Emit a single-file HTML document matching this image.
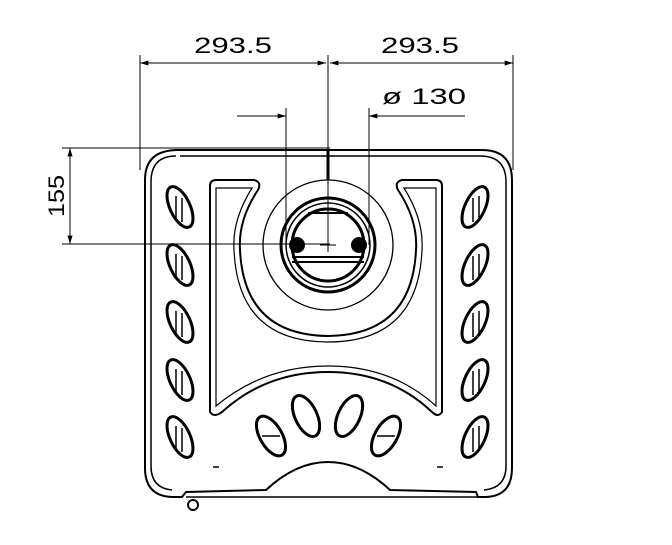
<!DOCTYPE html>
<html><head><style>html,body{margin:0;padding:0;background:#fff}svg{display:block}</style></head>
<body>
<svg width="672" height="545" viewBox="0 0 672 545" xmlns="http://www.w3.org/2000/svg" fill="none" stroke="#000">
<defs>
<marker id="a" viewBox="0 0 10 6" refX="10" refY="3" markerWidth="14" markerHeight="5" orient="auto-start-reverse" markerUnits="userSpaceOnUse"><path d="M0,0 L10,3 L0,6 z" fill="#000" stroke="none"/></marker>
</defs>
<g stroke-width="1">
<!-- dimension extension lines -->
<line x1="140" y1="55" x2="140" y2="170"/>
<line x1="513" y1="55" x2="513" y2="170"/>
<line x1="328" y1="55" x2="328" y2="250"/>
<line x1="140" y1="63" x2="326" y2="63" marker-start="url(#a)" marker-end="url(#a)"/>
<line x1="330" y1="63" x2="513" y2="63" marker-start="url(#a)" marker-end="url(#a)"/>
<line x1="286" y1="108" x2="286" y2="245"/>
<line x1="369" y1="108" x2="369" y2="245"/>
<line x1="237" y1="116" x2="286" y2="116" marker-end="url(#a)"/>
<line x1="465" y1="116" x2="369" y2="116" marker-end="url(#a)"/>
<line x1="62" y1="148" x2="330" y2="148"/>
<line x1="62" y1="244" x2="330" y2="244"/>
<line x1="70" y1="148" x2="70" y2="244" marker-start="url(#a)" marker-end="url(#a)"/>
</g>
<g fill="#000" stroke="none" font-family="Liberation Sans, sans-serif" font-size="22">
<text x="233" y="53" text-anchor="middle" textLength="78" lengthAdjust="spacingAndGlyphs">293.5</text>
<text x="420" y="53" text-anchor="middle" textLength="78" lengthAdjust="spacingAndGlyphs">293.5</text>
<text x="382" y="104" textLength="84" lengthAdjust="spacingAndGlyphs">ø 130</text>
<text transform="translate(64,196) rotate(-90)" text-anchor="middle" textLength="42" lengthAdjust="spacingAndGlyphs">155</text>
</g>
<!-- body -->
<g stroke-width="2">
<path d="M178,150 H482 Q512,150 512,180 V468 Q512,496 486,497 L478,497 L476,492 L390,490 Q360,462 328,462 Q296,462 266,490 L186,492 L182,497 L172,497 Q145,496 145,468 V180 Q145,150 178,150 Z"/>
<path d="M180,156 H480 Q506,156 506,182 V466 Q506,488 484,490 M176,156 Q151,156 151,182 V466 Q151,488 172,490" stroke-width="1.5"/>
<path d="M186,497 H478" stroke-width="1.5"/>
<circle cx="193" cy="505" r="5"/>
<!-- U shape -->
<path d="M210,412 V186 Q210,180 216,180 H254 Q262,182 258,190 Q238,220 240,250 Q244,335 328,336 Q412,335 416,250 Q418,220 398,190 Q394,182 402,180 H436 Q442,180 442,186 V412 Q438,418 432,412 Q390,372 328,372 Q266,372 222,412 Q214,418 210,412 Z"/>
<path d="M216,406 V188 H252 Q232,220 234,250 Q238,342 328,342 Q418,342 422,250 Q424,220 404,188 H436 V406 Q392,366 328,366 Q264,366 216,406 Z" stroke-width="1.2"/>
<!-- circles -->
<circle cx="328" cy="245" r="65" stroke-width="1.3"/>
<line x1="328" y1="150" x2="328" y2="180" stroke-width="3"/>
<circle cx="328" cy="245" r="47" stroke-width="3"/>
<circle cx="328" cy="245" r="42" stroke-width="1.5"/>
<circle cx="328" cy="245" r="36" stroke-width="3"/>
<line x1="292" y1="257" x2="364" y2="257" stroke-width="2"/>
<line x1="292" y1="262" x2="364" y2="262" stroke-width="2"/>
<line x1="308" y1="213" x2="348" y2="213" stroke-width="2"/>
<circle cx="297" cy="245" r="7" fill="#000"/>
<circle cx="359" cy="245" r="7" fill="#000"/>
<line x1="320" y1="245" x2="336" y2="245" stroke-width="1"/>
<line x1="328" y1="238" x2="328" y2="252" stroke-width="1"/>
</g>
<!-- side ovals -->
<g stroke-width="3">
<g transform="translate(180,207) rotate(-25)"><ellipse rx="10" ry="22"/></g>
<g transform="translate(180,265) rotate(-25)"><ellipse rx="10" ry="22"/></g>
<g transform="translate(180,322) rotate(-25)"><ellipse rx="10" ry="22"/></g>
<g transform="translate(180,380) rotate(-25)"><ellipse rx="10" ry="22"/></g>
<g transform="translate(180,437) rotate(-25)"><ellipse rx="10" ry="22"/></g>
<g transform="translate(475,207) rotate(25)"><ellipse rx="10" ry="22"/></g>
<g transform="translate(475,265) rotate(25)"><ellipse rx="10" ry="22"/></g>
<g transform="translate(475,322) rotate(25)"><ellipse rx="10" ry="22"/></g>
<g transform="translate(475,380) rotate(25)"><ellipse rx="10" ry="22"/></g>
<g transform="translate(475,437) rotate(25)"><ellipse rx="10" ry="22"/></g>
<g transform="translate(271,436) rotate(-30)"><ellipse rx="11" ry="22"/></g>
<g transform="translate(306,416) rotate(-25)"><ellipse rx="11" ry="22"/></g>
<g transform="translate(349,416) rotate(25)"><ellipse rx="11" ry="22"/></g>
<g transform="translate(386,436) rotate(30)"><ellipse rx="11" ry="22"/></g>
</g>
<g stroke-width="1.5">
<line x1="176" y1="196" x2="176" y2="220"/><line x1="182" y1="198" x2="182" y2="222"/>
<line x1="176" y1="254" x2="176" y2="278"/><line x1="182" y1="256" x2="182" y2="280"/>
<line x1="176" y1="311" x2="176" y2="335"/><line x1="182" y1="313" x2="182" y2="337"/>
<line x1="176" y1="369" x2="176" y2="393"/><line x1="182" y1="371" x2="182" y2="395"/>
<line x1="176" y1="426" x2="176" y2="450"/><line x1="182" y1="428" x2="182" y2="452"/>
<line x1="473" y1="198" x2="473" y2="222"/><line x1="479" y1="196" x2="479" y2="220"/>
<line x1="473" y1="256" x2="473" y2="280"/><line x1="479" y1="254" x2="479" y2="278"/>
<line x1="473" y1="313" x2="473" y2="337"/><line x1="479" y1="311" x2="479" y2="335"/>
<line x1="473" y1="371" x2="473" y2="395"/><line x1="479" y1="369" x2="479" y2="393"/>
<line x1="473" y1="428" x2="473" y2="452"/><line x1="479" y1="426" x2="479" y2="450"/>
<line x1="262" y1="436" x2="280" y2="436"/><line x1="377" y1="436" x2="395" y2="436"/>
<line x1="213" y1="467" x2="219" y2="467"/><line x1="437" y1="467" x2="443" y2="467"/>
</g>
</svg>
</body></html>
